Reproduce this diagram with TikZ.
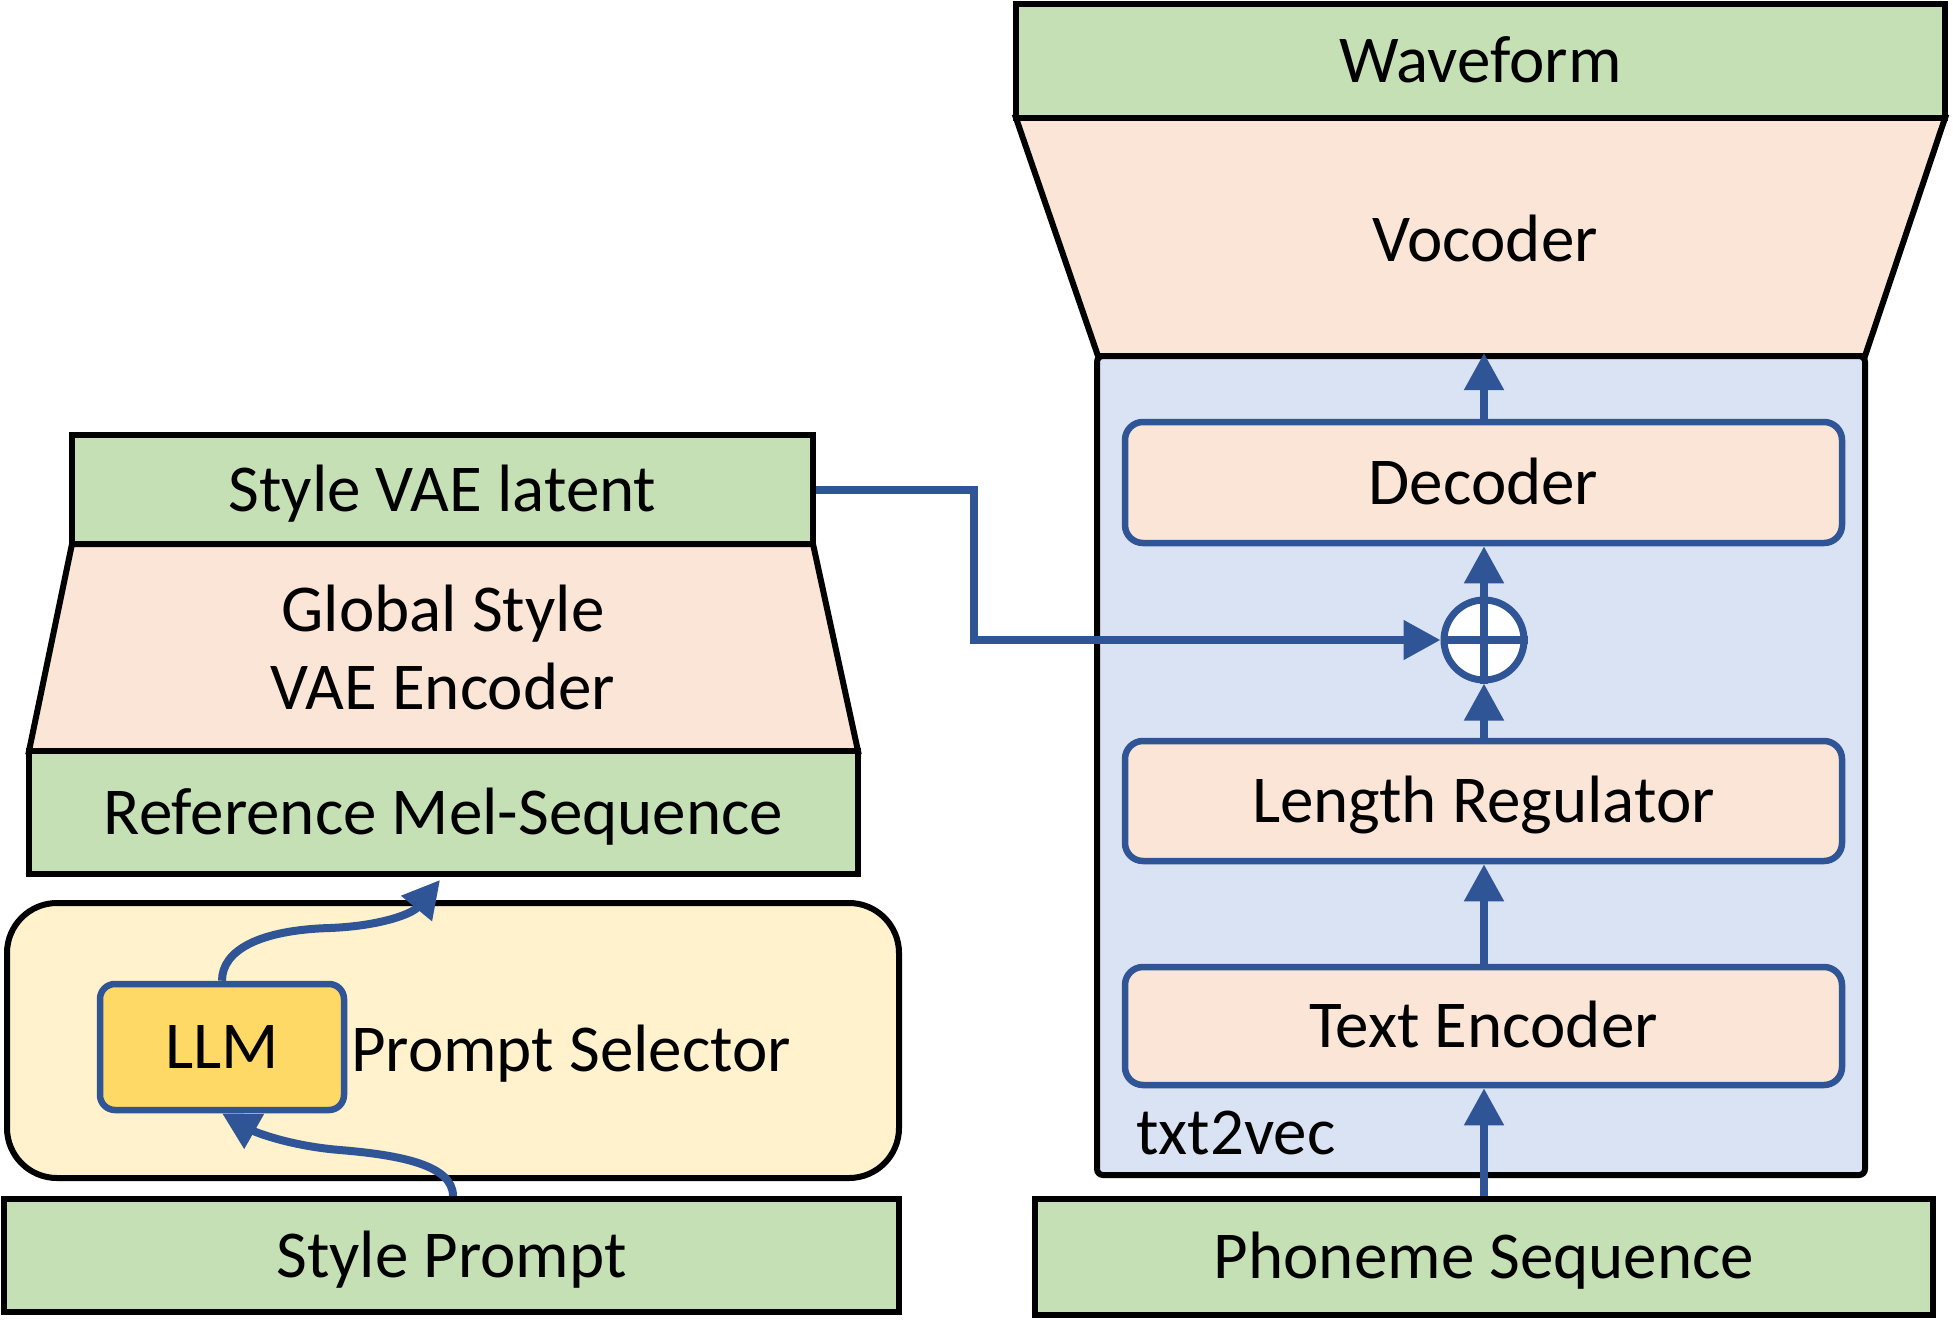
\documentclass[tikz,border=0pt]{standalone}
\usepackage{fontspec}
\setmainfont{Carlito}
\usetikzlibrary{arrows.meta,shapes.geometric}
\definecolor{cgreen}{HTML}{C5E0B4}
\definecolor{cpeach}{HTML}{FBE5D6}
\definecolor{cblue}{HTML}{DAE3F3}
\definecolor{ccream}{HTML}{FFF2CC}
\definecolor{cyellow}{HTML}{FFD966}
\definecolor{cline}{HTML}{2F5597}
\begin{document}
\begin{tikzpicture}[x=1pt,y=-1pt,
  lbl/.style={font=\fontsize{67}{78}\selectfont,text height=43pt,text depth=0pt,inner sep=0pt},
  greenbox/.style={lbl,draw=black,line width=6pt,fill=cgreen,rectangle},
  bluebox/.style={lbl,draw=cline,line width=6.5pt,fill=cpeach,rectangle,rounded corners=18pt,minimum width=717pt},
  trap/.style={draw=black,line width=6pt,fill=cpeach,line join=miter},
  conn/.style={draw=cline,line width=8pt,-{Triangle[length=37pt,width=38pt]}},
]
\useasboundingbox (0,0) rectangle (1953,1337);

% ---------- right column ----------
\draw[trap] (1016,118) -- (1945,118) -- (1865,356) -- (1098,356) -- cycle;
\node[lbl] (voc) at (1485,240) {Vocoder};
\node[greenbox,minimum width=929pt,minimum height=114pt] (wave) at (1480.5,61) {Waveform};

\node[draw=black,line width=6pt,fill=cblue,rounded corners=6pt,minimum width=768pt,minimum height=819pt,inner sep=0pt] (t2v) at (1481,765.5) {};
\node[lbl,anchor=west] (t2vlbl) at (1136,1133) {txt2vec};

\node[bluebox,minimum height=121pt] (dec) at (1483.5,482.5) {Decoder};
\node[bluebox,minimum height=120pt] (lr) at (1483.5,801) {Length Regulator};
\node[bluebox,minimum height=118pt] (te) at (1483.5,1026) {Text Encoder};
\node[greenbox,minimum width=898pt,minimum height=116pt] (phon) at (1484,1257) {Phoneme Sequence};

\node[circle,draw=cline,line width=7pt,fill=white,minimum size=80pt,inner sep=0pt] (op) at (1484,640) {};
\draw[cline,line width=8pt] (op.north) -- (op.south) (op.west) -- (op.east);

\draw[conn] (phon.north -| op) -- (te.south -| op);
\draw[conn] (te.north -| op) -- (lr.south -| op);
\draw[conn] (lr.north -| op) -- (op.south);
\draw[conn] (op.north) -- (dec.south -| op);
\draw[conn] (dec.north -| op) -- (t2v.north -| op);

% ---------- left column ----------
\draw[trap] (72,544) -- (813,544) -- (858,751) -- (29,751) -- cycle;
\node[font=\fontsize{67}{78}\selectfont,align=center,inner sep=0pt] (gsv) at (443,647) {Global Style\\VAE Encoder};
\node[greenbox,minimum width=741pt,minimum height=109pt] (svl) at (442.5,489.5) {Style VAE latent};
\node[greenbox,minimum width=829pt,minimum height=123pt] (ref) at (443.5,812.5) {Reference Mel-Sequence};

\node[draw=black,line width=6pt,fill=ccream,rounded corners=50pt,minimum width=892pt,minimum height=275pt,inner sep=0pt] (ps) at (453,1040.5) {};
\node[lbl,draw=cline,line width=6.5pt,fill=cyellow,rounded corners=15pt,minimum width=244pt,minimum height=126pt] (llm) at (222,1047) {LLM};
\node[lbl,anchor=west] (pslbl) at (351,1050) {Prompt Selector};
\node[greenbox,minimum width=895pt,minimum height=113pt] (sp) at (451.5,1255.5) {Style Prompt};

\draw[conn] (sp.north -| 453,0) .. controls (453,1165) and (400,1155) .. (340,1150) .. controls (290,1146) and (255,1132) .. (llm.south);
\draw[conn] (llm.north) .. controls (222,950) and (260,930) .. (330,928) .. controls (380,926) and (412,914) .. (440,880);

\draw[cline,line width=8pt,-{Triangle[length=37pt,width=38pt]}] (svl.east) -- ++(158,0) |- (op.west);
\end{tikzpicture}
\end{document}
